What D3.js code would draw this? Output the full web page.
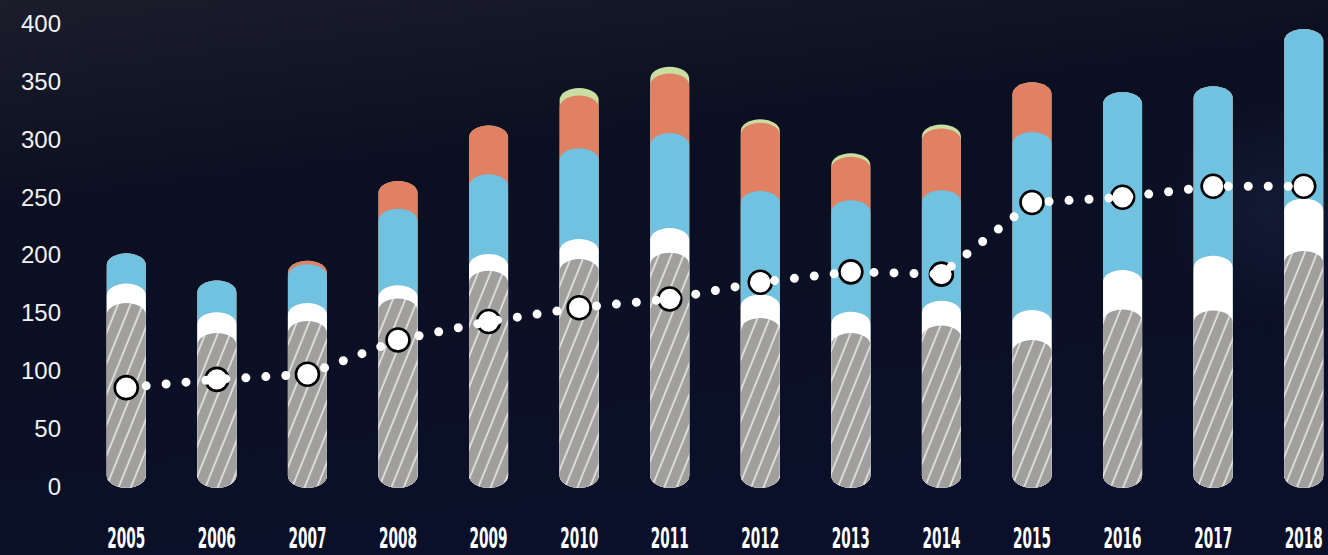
<!DOCTYPE html>
<html>
<head>
<meta charset="utf-8">
<script src="https://cdn.jsdelivr.net/npm/d3@7/dist/d3.min.js"></script>
<style>
  html, body { margin: 0; padding: 0; background: #0a0e1f; }
  svg { display: block; }
</style>
</head>
<body>
<svg id="chart" width="1328" height="555"></svg>
<script>
const years = ["2005","2006","2007","2008","2009","2010","2011","2012","2013","2014","2015","2016","2017","2018"];
const grayValues   = [158,132,142.5,162,186,196,201.5,145,132,138.5,126,152.5,151.5,203];
const whiteValues  = [17,18,15.5,11.5,14.5,17.5,21.5,20.5,18.5,21.5,26,34,47.5,45.5];
const blueValues   = [26,27.5,33.5,66,69,78.5,82,89.5,96.5,95.5,154,154,146.5,146.5];
const orangeValues = [0,0,3,24,42,45.5,51.5,59,37.5,53.5,43,0,0,0];
const greenValues  = [0,0,0,0,0,6.5,6,3,3,3.5,0,0,0,0];
const lineValues   = [84.8,92,96.4,126,142,154,161.5,176,185,183,245,249.5,259,259];
const yTicks = [0,50,100,150,200,250,300,350,400];

const seriesKeys = ["gray","white","blue","orange","green"];
const seriesData = {gray: grayValues, white: whiteValues, blue: blueValues, orange: orangeValues, green: greenValues};
const colors = {gray: "url(#hatch)", white: "#ffffff", blue: "#71c1e0", orange: "#e08163", green: "#c9dea3"};

const table = years.map((yr, i) => {
  const o = {year: yr};
  seriesKeys.forEach(k => o[k] = seriesData[k][i]);
  return o;
});

const svg = d3.select("#chart");
const W = 1328, H = 555;
const defs = svg.append("defs");

// background
const bg = defs.append("linearGradient").attr("id","bg").attr("x1","0").attr("y1","0").attr("x2","0.3").attr("y2","1");
bg.append("stop").attr("offset","0%").attr("stop-color","#1b1d2b");
bg.append("stop").attr("offset","35%").attr("stop-color","#0b0f21");
bg.append("stop").attr("offset","100%").attr("stop-color","#0a1029");
const glow = defs.append("radialGradient").attr("id","glow").attr("cx","0.5").attr("cy","0.5").attr("r","0.5");
glow.append("stop").attr("offset","0%").attr("stop-color","#24345a").attr("stop-opacity",0.3);
glow.append("stop").attr("offset","100%").attr("stop-color","#24345a").attr("stop-opacity",0);

svg.append("rect").attr("width",W).attr("height",H).attr("fill","url(#bg)");
svg.append("ellipse").attr("cx",1270).attr("cy",210).attr("rx",100).attr("ry",110).attr("fill","url(#glow)");

// hatch pattern
const pat = defs.append("pattern").attr("id","hatch").attr("patternUnits","userSpaceOnUse")
  .attr("width",11.5).attr("height",11.5).attr("patternTransform","rotate(22)");
pat.append("rect").attr("width",11.5).attr("height",11.5).attr("fill","#a09f9d");
pat.append("line").attr("x1",5).attr("y1",0).attr("x2",5).attr("y2",11.5)
  .attr("stroke","#e8e8e6").attr("stroke-width",1.6);

const x = d3.scaleBand().domain(years).range([81, 1349]).padding(0);
const y = d3.scaleLinear().domain([0, 400]).range([485.7, 23.3]);

// y axis labels
const yAxis = d3.axisLeft(y).tickValues(yTicks).tickSize(0).tickPadding(0);
const ya = svg.append("g").attr("transform","translate(61,0)").call(yAxis);
ya.select(".domain").remove();
ya.selectAll("text").attr("fill","#f2f2f2").attr("font-family","Liberation Sans, Arial, sans-serif")
  .attr("font-size",24).attr("dy","0.35em");

// x axis labels (condensed)
const xAxis = d3.axisBottom(x).tickSize(0).tickPadding(0);
const xa = svg.append("g").attr("transform","translate(0,548)").call(xAxis);
xa.select(".domain").remove();
xa.selectAll("text").attr("fill","#ffffff")
  .attr("font-family","Liberation Sans Narrow, DejaVu Sans Condensed, sans-serif")
  .attr("font-weight","bold").attr("font-size",28).attr("y",0).attr("dy","0")
  .each(function() {
    const w = this.getComputedTextLength() || 40;
    d3.select(this).attr("transform", `scale(${38 / w},1)`);
  });

// stacked bars with elliptical caps
const stack = d3.stack().keys(seriesKeys)(table);
const bw = 39, ry = 12;
const yBase = y(0) + 2;
function capsule(cx, top) {
  const l = cx - bw/2, r = cx + bw/2, rx = bw/2;
  return `M${l},${top+ry} A${rx},${ry} 0 0 1 ${r},${top+ry} L${r},${yBase-ry} A${rx},${ry} 0 0 1 ${l},${yBase-ry} Z`;
}
const barsG = svg.append("g");
stack.slice().reverse().forEach(layer => {
  const k = layer.key;
  barsG.append("g").selectAll("path").data(layer).join("path")
    .attr("d", d => capsule(x(d.data.year) + x.bandwidth()/2, y(d[1])))
    .attr("fill", colors[k]);
});

// line: circles then dotted line on top
const pts = years.map((yr, i) => [x(yr) + x.bandwidth()/2, y(lineValues[i])]);
svg.append("g").selectAll("circle").data(pts).join("circle")
  .attr("cx", d => d[0]).attr("cy", d => d[1]).attr("r", 11.5)
  .attr("fill","#ffffff").attr("stroke","#000000").attr("stroke-width",2.6);
svg.append("path").attr("d", d3.line()(pts)).attr("fill","none")
  .attr("stroke","#ffffff").attr("stroke-width",9).attr("stroke-linecap","round")
  .attr("stroke-dasharray","0 20");
</script>
</body>
</html>
